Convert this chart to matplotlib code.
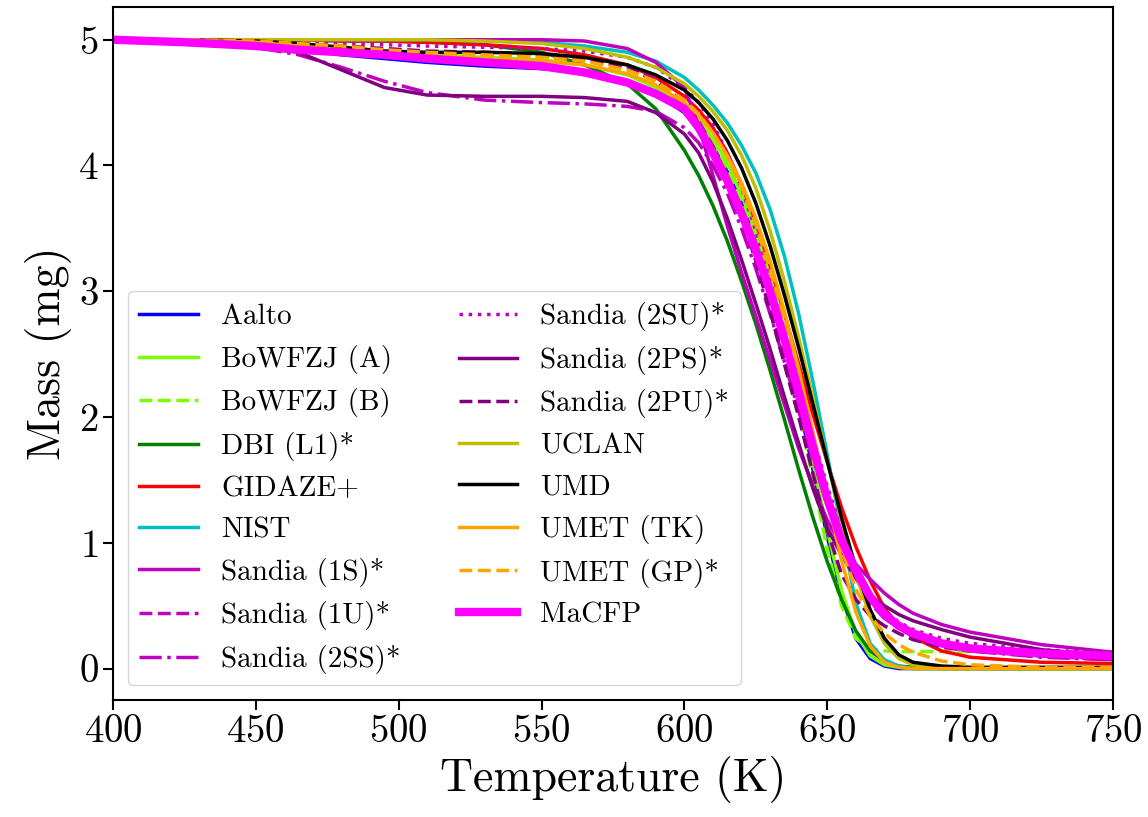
import matplotlib
matplotlib.use('Agg')
import matplotlib.pyplot as plt

plt.rcParams['font.family'] = 'cmr10'
plt.rcParams['mathtext.fontset'] = 'cm'
plt.rcParams['axes.formatter.use_mathtext'] = True

# temperature grid (K) shared by all series
temp = [400, 425, 450, 465, 480, 495, 510, 530, 550, 565, 580, 590, 600, 605, 610, 615,
        620, 625, 630, 635, 640, 645, 650, 655, 660, 665, 670, 675, 680, 690, 700, 725, 750]

# mass (mg)
aalto = [5.0, 4.99, 4.95, 4.92, 4.88, 4.85, 4.82, 4.79, 4.77, 4.74, 4.67, 4.57, 4.42, 4.3, 4.15, 3.95,
         3.7, 3.4, 3.05, 2.62, 2.12, 1.58, 1.05, 0.58, 0.24, 0.08, 0.02, 0.0, 0.0, 0.0, 0.0, 0.0, 0.0]
bowfzj_a = [5.0, 5.0, 4.99, 4.97, 4.94, 4.91, 4.88, 4.86, 4.84, 4.8, 4.72, 4.62, 4.47, 4.36, 4.21, 4.02,
            3.77, 3.47, 3.1, 2.67, 2.17, 1.64, 1.1, 0.62, 0.28, 0.1, 0.03, 0.01, 0.0, 0.0, 0.0, 0.0, 0.0]
bowfzj_b = [5.0, 5.0, 4.99, 4.97, 4.94, 4.91, 4.88, 4.86, 4.84, 4.8, 4.73, 4.63, 4.47, 4.35, 4.19, 3.98,
            3.72, 3.4, 3.02, 2.58, 2.06, 1.5, 0.95, 0.5, 0.24, 0.16, 0.14, 0.135, 0.135, 0.135, 0.135, 0.135, 0.135]
dbi = [5.0, 5.0, 5.0, 5.0, 4.99, 4.99, 4.98, 4.96, 4.9, 4.8, 4.65, 4.45, 4.12, 3.92, 3.68, 3.4,
       3.08, 2.74, 2.37, 1.98, 1.58, 1.2, 0.85, 0.55, 0.3, 0.14, 0.06, 0.02, 0.01, 0.0, 0.0, 0.0, 0.0]
gidaze = [5.0, 5.0, 5.0, 5.0, 4.99, 4.99, 4.98, 4.96, 4.93, 4.88, 4.8, 4.7, 4.55, 4.44, 4.3, 4.1,
          3.85, 3.55, 3.2, 2.82, 2.42, 2.02, 1.64, 1.28, 0.97, 0.7, 0.48, 0.34, 0.25, 0.14, 0.09, 0.05, 0.04]
nist = [5.0, 5.0, 5.0, 5.0, 5.0, 5.0, 5.0, 4.99, 4.98, 4.95, 4.9, 4.83, 4.7, 4.6, 4.48, 4.34,
        4.16, 3.94, 3.65, 3.28, 2.82, 2.28, 1.7, 1.1, 0.52, 0.2, 0.07, 0.02, 0.0, 0.0, 0.0, 0.0, 0.0]
sandia_1s = [5.0, 5.0, 5.0, 5.0, 5.0, 5.0, 5.0, 5.0, 5.0, 4.99, 4.93, 4.82, 4.62, 4.32, 3.92, 3.52,
             3.15, 2.8, 2.45, 2.1, 1.75, 1.45, 1.18, 0.97, 0.83, 0.71, 0.6, 0.51, 0.44, 0.35, 0.29, 0.19, 0.13]
sandia_1u = [5.0, 4.99, 4.97, 4.95, 4.93, 4.91, 4.9, 4.89, 4.87, 4.84, 4.78, 4.68, 4.5, 4.35, 4.15, 3.9,
             3.6, 3.25, 2.88, 2.5, 2.1, 1.7, 1.32, 1.0, 0.74, 0.55, 0.42, 0.33, 0.27, 0.2, 0.16, 0.1, 0.07]
sandia_2ss = [5.0, 4.99, 4.94, 4.88, 4.78, 4.67, 4.58, 4.52, 4.5, 4.49, 4.47, 4.43, 4.3, 4.18, 4.0, 3.78,
              3.5, 3.18, 2.82, 2.44, 2.05, 1.67, 1.3, 0.98, 0.72, 0.52, 0.4, 0.32, 0.26, 0.19, 0.14, 0.09, 0.07]
sandia_2su = [5.0, 5.0, 4.99, 4.98, 4.97, 4.96, 4.95, 4.94, 4.93, 4.91, 4.86, 4.78, 4.62, 4.5, 4.33, 4.1,
              3.82, 3.48, 3.1, 2.7, 2.28, 1.85, 1.45, 1.1, 0.82, 0.6, 0.46, 0.37, 0.31, 0.24, 0.2, 0.15, 0.12]
sandia_2ps = [5.0, 4.99, 4.95, 4.9, 4.76, 4.62, 4.56, 4.55, 4.55, 4.54, 4.51, 4.42, 4.25, 4.1, 3.87, 3.58,
              3.25, 2.9, 2.54, 2.16, 1.79, 1.43, 1.12, 0.9, 0.72, 0.58, 0.5, 0.43, 0.38, 0.31, 0.25, 0.15, 0.1]
sandia_2pu = [5.0, 4.99, 4.98, 4.97, 4.95, 4.93, 4.91, 4.9, 4.88, 4.85, 4.78, 4.67, 4.48, 4.34, 4.15, 3.9,
              3.6, 3.24, 2.84, 2.42, 2.0, 1.55, 1.1, 0.75, 0.55, 0.42, 0.34, 0.28, 0.23, 0.17, 0.14, 0.1, 0.08]
uclan = [5.0, 5.0, 5.0, 5.0, 5.0, 5.0, 5.0, 4.99, 4.97, 4.93, 4.86, 4.78, 4.65, 4.55, 4.43, 4.28,
         4.08, 3.82, 3.48, 3.08, 2.63, 2.15, 1.65, 1.17, 0.75, 0.42, 0.2, 0.08, 0.03, 0.0, 0.0, 0.0, 0.0]
umd = [5.0, 5.0, 4.99, 4.97, 4.94, 4.91, 4.9, 4.9, 4.89, 4.86, 4.8, 4.72, 4.6, 4.5, 4.37, 4.2,
       3.98, 3.7, 3.36, 2.97, 2.55, 2.1, 1.65, 1.2, 0.8, 0.47, 0.24, 0.11, 0.05, 0.02, 0.01, 0.01, 0.01]
umet_tk = [5.0, 5.0, 4.98, 4.95, 4.92, 4.89, 4.87, 4.85, 4.83, 4.8, 4.73, 4.64, 4.5, 4.4, 4.26, 4.08,
           3.86, 3.58, 3.24, 2.84, 2.38, 1.88, 1.36, 0.86, 0.45, 0.18, 0.05, 0.01, 0.0, 0.0, 0.0, 0.0, 0.0]
umet_gp = [5.0, 5.0, 4.99, 4.97, 4.95, 4.92, 4.9, 4.88, 4.86, 4.83, 4.76, 4.67, 4.52, 4.41, 4.26, 4.07,
           3.83, 3.53, 3.17, 2.76, 2.3, 1.82, 1.35, 0.95, 0.63, 0.42, 0.28, 0.19, 0.13, 0.06, 0.03, 0.01, 0.01]
macfp = [5.0, 4.98, 4.95, 4.92, 4.9, 4.88, 4.85, 4.82, 4.79, 4.74, 4.66, 4.57, 4.45, 4.3, 4.1, 3.88,
         3.62, 3.33, 3.0, 2.62, 2.2, 1.76, 1.35, 1.02, 0.78, 0.57, 0.43, 0.34, 0.28, 0.2, 0.16, 0.12, 0.1]

labels = ['Aalto', 'BoWFZJ (A)', 'BoWFZJ (B)', 'DBI (L1)*', 'GIDAZE+', 'NIST',
          'Sandia (1S)*', 'Sandia (1U)*', 'Sandia (2SS)*', 'Sandia (2SU)*', 'Sandia (2PS)*',
          'Sandia (2PU)*', 'UCLAN', 'UMD', 'UMET (TK)', 'UMET (GP)*', 'MaCFP']
series = [aalto, bowfzj_a, bowfzj_b, dbi, gidaze, nist, sandia_1s, sandia_1u, sandia_2ss,
          sandia_2su, sandia_2ps, sandia_2pu, uclan, umd, umet_tk, umet_gp, macfp]
colors = ['b', 'lawngreen', 'lawngreen', 'g', 'r', 'c', 'm', 'm', 'm', 'm', 'purple',
          'purple', 'y', 'k', 'orange', 'orange', 'magenta']
styles = ['-', '-', '--', '-', '-', '-', '-', '--', '-.', ':', '-', '--', '-', '-', '-', '--', '-']

fig, ax = plt.subplots(figsize=(11.48, 8.17), dpi=100)
fig.subplots_adjust(left=0.0984, right=0.9695, top=0.9914, bottom=0.1432)

for m, lab, c, ls in zip(series, labels, colors, styles):
    lw = 6 if lab == 'MaCFP' else 2.5
    ax.plot(temp, m, color=c, linestyle=ls, linewidth=lw, label=lab)

ax.set_xlim(400, 750)
ax.set_ylim(-0.25, 5.26)
ax.set_xticks([400, 450, 500, 550, 600, 650, 700, 750])
ax.set_yticks([0, 1, 2, 3, 4, 5])
ax.tick_params(labelsize=28, width=1.5, length=7)
for s in ax.spines.values():
    s.set_linewidth(1.5)
ax.set_xlabel('Temperature (K)', fontsize=33)
ax.set_ylabel('Mass (mg)', fontsize=33)
ax.legend(loc='lower left', ncol=2, fontsize=21)

fig.savefig('out.png', dpi=100)
